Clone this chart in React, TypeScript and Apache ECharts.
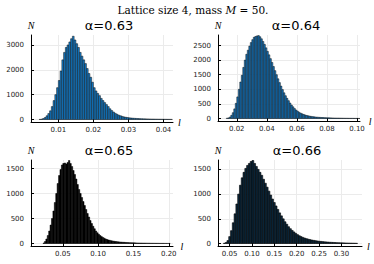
import React, { useEffect, useRef } from "react";
import * as echarts from "echarts";

// ---------- data ----------
const SUPTITLE_TEXT = "Lattice size 4, mass ";
const PANEL_TITLES = ["α=0.63", "α=0.64", "α=0.65", "α=0.66"];

const BIN_START_063 = 0.0045;
const BIN_WIDTH_063 = 0.0005;
const COUNTS_063 = [
  5, 15, 40, 80, 150, 240, 350, 520, 760, 1000, 1280, 1570, 1950, 2400, 2700, 2900,
  3000, 3120, 3250, 3350, 3200, 3050, 2900, 2700, 2550, 2400, 2250, 2050, 1850, 1700,
  1500, 1280, 1150, 1050, 960, 850, 760, 680, 600, 520, 430, 360, 300, 250, 210, 175,
  150, 125, 105, 90, 78, 68, 60, 54, 48, 43, 38, 34, 31, 28, 26, 24, 22, 20, 18, 17,
  15, 14, 13, 12, 11, 10, 9, 8, 7, 6,
];

const BIN_START_064 = 0.013;
const BIN_WIDTH_064 = 0.001;
const COUNTS_064 = [
  10, 20, 50, 110, 200, 330, 520, 740, 1000, 1250, 1480, 1750, 2000, 2200, 2340, 2480,
  2600, 2700, 2780, 2810, 2830, 2840, 2800, 2730, 2640, 2540, 2420, 2300, 2180, 2050,
  1920, 1780, 1640, 1500, 1360, 1230, 1110, 990, 880, 780, 690, 610, 530, 460, 400, 340,
  290, 250, 215, 185, 160, 140, 122, 106, 93, 82, 72, 64, 57, 51, 46, 42, 38, 35, 32,
  29, 27, 25, 23, 21, 19, 18, 16, 15, 14, 13, 12, 11, 10, 9, 9, 8, 7, 7, 6, 5, 5, 4, 3,
];

const BIN_START_065 = 0.022;
const BIN_WIDTH_065 = 0.002;
const COUNTS_065 = [
  10, 40, 90, 160, 250, 370, 500, 650, 820, 1000, 1200, 1360, 1480, 1570, 1600, 1610,
  1590, 1620, 1660, 1600, 1540, 1460, 1380, 1290, 1180, 1080, 1000, 920, 840, 760, 680,
  600, 530, 460, 400, 345, 295, 250, 215, 185, 160, 138, 120, 104, 90, 79, 70, 62, 55,
  49, 44, 40, 36, 33, 30, 27, 25, 23, 21, 19, 18, 16, 15, 14, 13, 12, 11, 10, 10, 9, 8,
  8, 7, 7, 6, 6, 5, 5, 5, 4, 4, 4, 3, 3, 3, 3, 2, 2, 2, 2,
];

const BIN_START_066 = 0.036;
const BIN_WIDTH_066 = 0.004;
const COUNTS_066 = [
  5, 20, 60, 140, 260, 420, 600, 800, 1000, 1180, 1330, 1440, 1520, 1580, 1620, 1660,
  1680, 1620, 1560, 1500, 1440, 1380, 1300, 1220, 1140, 1060, 980, 900, 830, 760, 690,
  620, 560, 500, 440, 390, 340, 300, 265, 235, 205, 180, 158, 140, 124, 110, 98, 88, 79,
  71, 64, 58, 52, 47, 43, 39, 35, 32, 29, 26, 24, 22, 20, 18, 16, 15, 14, 12, 11, 10, 9,
  8, 7, 6, 5,
];

const X_TICKS_063 = [0.01, 0.02, 0.03, 0.04];
const X_TICKS_064 = [0.02, 0.04, 0.06, 0.08, 0.1];
const X_TICKS_065 = [0.05, 0.1, 0.15, 0.2];
const X_TICKS_066 = [0.05, 0.1, 0.15, 0.2, 0.25, 0.3];
const Y_TICKS_063 = [0, 1000, 2000, 3000];
const Y_TICKS_064 = [0, 500, 1000, 1500, 2000, 2500];
const Y_TICKS_065 = [0, 500, 1000, 1500];
const Y_TICKS_066 = [0, 500, 1000, 1500];

// ---------- layout / style ----------
const panels = [
  {
    title: PANEL_TITLES[0], start: BIN_START_063, width: BIN_WIDTH_063, counts: COUNTS_063,
    xTicks: X_TICKS_063, yTicks: Y_TICKS_063,
    xMin: 0.0022, xMax: 0.0427, yMin: -100, yMax: 3400,
    grid: { left: 31, top: 35, width: 142, height: 87 },
    fill: "#1580d0", stroke: "#0a0a0a", lw: 0.5,
  },
  {
    title: PANEL_TITLES[1], start: BIN_START_064, width: BIN_WIDTH_064, counts: COUNTS_064,
    xTicks: X_TICKS_064, yTicks: Y_TICKS_064,
    xMin: 0.0075, xMax: 0.102, yMin: -85, yMax: 2860,
    grid: { left: 218, top: 35, width: 142, height: 86 },
    fill: "#1580d0", stroke: "#0a0a0a", lw: 0.5,
  },
  {
    title: PANEL_TITLES[2], start: BIN_START_065, width: BIN_WIDTH_065, counts: COUNTS_065,
    xTicks: X_TICKS_065, yTicks: Y_TICKS_065,
    xMin: 0.005, xMax: 0.206, yMin: -50, yMax: 1670,
    grid: { left: 31, top: 160, width: 142, height: 86 },
    fill: "#000000", stroke: "#000000", lw: 0.5,
  },
  {
    title: PANEL_TITLES[3], start: BIN_START_066, width: BIN_WIDTH_066, counts: COUNTS_066,
    xTicks: X_TICKS_066, yTicks: Y_TICKS_066,
    xMin: 0.024, xMax: 0.346, yMin: -50, yMax: 1690,
    grid: { left: 218, top: 160, width: 144, height: 86 },
    fill: "#0b2a40", stroke: "#000000", lw: 0.6,
  },
];

const TICK_FONT = "DejaVu Sans";

export default function App() {
  const ref = useRef<HTMLDivElement>(null);
  useEffect(() => {
    if (!ref.current) return;
    const chart = echarts.init(ref.current, null, { renderer: "svg" });

    const grids: any[] = [];
    const xAxes: any[] = [];
    const yAxes: any[] = [];
    const series: any[] = [];
    const titles: any[] = [
      {
        text: SUPTITLE_TEXT + "{i|M} = 50.",
        left: 188,
        top: -1,
        textAlign: "center",
        textStyle: {
          fontFamily: "DejaVu Serif",
          fontSize: 10.5,
          fontWeight: "normal",
          color: "#000",
          rich: { i: { fontStyle: "italic", fontFamily: "DejaVu Serif", fontSize: 10.5 } },
        },
      },
    ];

    panels.forEach((p, i) => {
      grids.push({ ...p.grid, containLabel: false });
      titles.push({
        text: p.title,
        left: p.grid.left + p.grid.width / 2 + 2,
        top: p.grid.top - 21,
        textAlign: "center",
        textStyle: { fontFamily: "DejaVu Sans", fontSize: 13, fontWeight: "normal", color: "#000" },
      });
      xAxes.push({
        type: "value",
        gridIndex: i,
        min: p.xMin,
        max: p.xMax,
        name: "l",
        nameLocation: "end",
        nameGap: 5,
        nameTextStyle: { fontFamily: "Liberation Serif", fontStyle: "italic", fontSize: 10, color: "#000" },
        axisLine: { show: true, onZero: false, lineStyle: { color: "#000", width: 1 } },
        axisTick: { show: true, inside: true, length: 3, customValues: p.xTicks, lineStyle: { color: "#000" } },
        axisLabel: {
          customValues: p.xTicks,
          formatter: (v: number) => v.toFixed(2),
          fontFamily: TICK_FONT,
          fontSize: 7,
          color: "#222",
          margin: 4,
        },
        splitLine: { show: true, lineStyle: { color: "#ebebeb", width: 1 } },
      });
      yAxes.push({
        type: "value",
        gridIndex: i,
        min: p.yMin,
        max: p.yMax,
        name: "N",
        nameLocation: "end",
        nameGap: 5,
        nameTextStyle: { fontFamily: "Liberation Serif", fontStyle: "italic", fontSize: 10, color: "#000", align: "center" },
        axisLine: { show: true, onZero: false, lineStyle: { color: "#000", width: 1 } },
        axisTick: { show: true, inside: true, length: 3, customValues: p.yTicks, lineStyle: { color: "#000" } },
        axisLabel: {
          customValues: p.yTicks,
          formatter: (v: number) => String(Math.round(v)),
          fontFamily: TICK_FONT,
          fontSize: 7,
          color: "#222",
          margin: 7,
        },
        splitLine: { show: true, lineStyle: { color: "#ebebeb", width: 1 } },
      });
      const data = p.counts.map((c, k) => [p.start + k * p.width, p.start + (k + 1) * p.width, c]);
      series.push({
        type: "custom",
        xAxisIndex: i,
        yAxisIndex: i,
        data,
        encode: { x: [0, 1], y: 2 },
        clip: true,
        renderItem: (params: any, api: any) => {
          const a = api.coord([api.value(0), api.value(2)]);
          const b = api.coord([api.value(1), 0]);
          return {
            type: "rect",
            shape: { x: a[0], y: a[1], width: b[0] - a[0], height: b[1] - a[1] },
            style: { fill: p.fill, stroke: p.stroke, lineWidth: p.lw },
          };
        },
      });
    });

    chart.setOption({
      animation: false,
      backgroundColor: "#fff",
      title: titles,
      grid: grids,
      xAxis: xAxes,
      yAxis: yAxes,
      series,
    });
    return () => chart.dispose();
  }, []);
  return (
    <div
      ref={ref}
      style={{ position: "fixed", left: 0, top: 0, width: 374, height: 264, background: "#fff" }}
    />
  );
}
